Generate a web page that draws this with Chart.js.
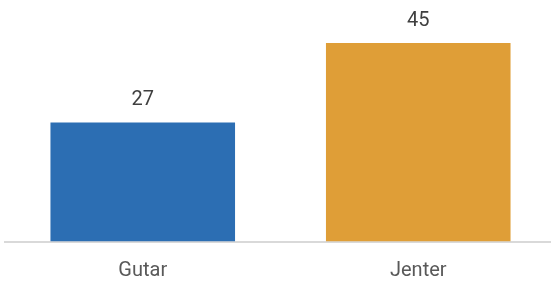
<!DOCTYPE html>
<html>
<head>
<meta charset="utf-8">
<script src="https://cdn.jsdelivr.net/npm/chart.js@4/dist/chart.umd.min.js"></script>
<style>
  html, body { margin: 0; padding: 0; background: #fff; overflow: hidden; }
  #wrap { width: 556px; height: 284px; position: relative; }
</style>
</head>
<body>
<div id="wrap"><canvas id="c"></canvas></div>
<script>
const CATEGORIES = ['Gutar', 'Jenter'];
const VALUES = [27, 45];
const COLORS = ['#2c6eb3', '#df9e37'];
const Y_MAX = 50;

// tall på toppen av søylene
const valueLabels = {
  id: 'valueLabels',
  afterDatasetsDraw(chart) {
    const ctx = chart.ctx;
    const meta = chart.getDatasetMeta(0);
    ctx.save();
    ctx.font = '20px Roboto';
    ctx.fillStyle = '#404040';
    ctx.textAlign = 'center';
    ctx.textBaseline = 'alphabetic';
    meta.data.forEach((bar, i) => {
      ctx.fillText(String(VALUES[i]), bar.x, bar.y - 17);
    });
    ctx.restore();
  }
};

new Chart(document.getElementById('c'), {
  type: 'bar',
  data: {
    labels: CATEGORIES,
    datasets: [{ data: VALUES, backgroundColor: COLORS, categoryPercentage: 1, barPercentage: 0.67 }]
  },
  options: {
    responsive: true,
    maintainAspectRatio: false,
    animation: false,
    layout: { padding: { top: 21, left: 5, right: 0, bottom: 0 } },
    plugins: { legend: { display: false }, tooltip: { enabled: false } },
    scales: {
      x: {
        grid: { display: false, drawTicks: false },
        border: { display: true, color: '#d9d9d9', width: 2 },
        ticks: { color: '#595959', font: { family: 'Roboto', size: 20 }, padding: 17 },
        afterFit(scale) { scale.height = 42.5; }
      },
      y: { display: false, min: 0, max: Y_MAX }
    }
  },
  plugins: [valueLabels]
});
</script>
</body>
</html>
